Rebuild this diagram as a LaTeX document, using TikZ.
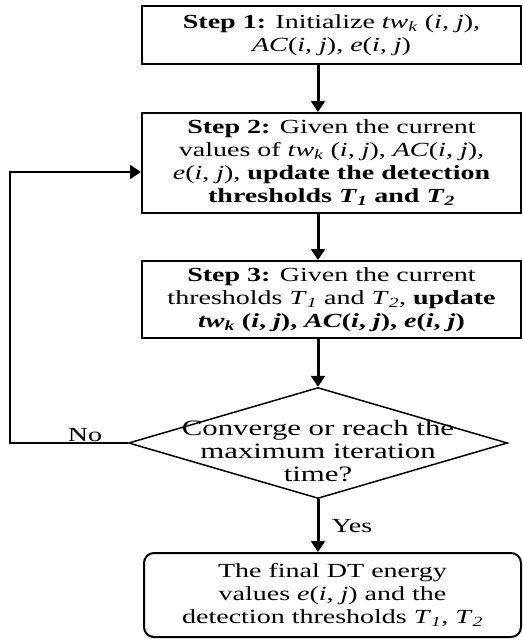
\documentclass[tikz,border=0pt]{standalone}
\usepackage{fontspec}
\setmainfont{Liberation Serif}[FakeStretch=1.4]
\usetikzlibrary{arrows.meta,shapes.geometric}
\newcommand{\pij}{(\textit{i}, \textit{j})}
\newcommand{\twk}{\textit{tw}\textsubscript{\textit{k}}}
\newcommand{\Tone}{\textit{T}\textsubscript{\textit{1}}}
\newcommand{\Ttwo}{\textit{T}\textsubscript{\textit{2}}}
\begin{document}
\begin{tikzpicture}[x=1pt,y=-1pt,
  every node/.style={font=\fontsize{20}{23}\selectfont},
  stepbox/.style={draw, line width=2pt, rectangle, minimum width=379pt, inner sep=0pt, align=center},
  endbox/.style={draw, line width=2pt, rectangle, rounded corners=10pt, minimum width=377pt, inner sep=0pt, align=center},
  decbox/.style={draw, line width=1.5pt, diamond, minimum width=379pt, minimum height=111pt, inner sep=0pt},
  flow/.style={line width=3pt, -{Triangle[length=11pt,width=14pt]}},
  loopline/.style={line width=2pt, -{Triangle[length=11pt,width=14pt]}},
  lbl/.style={inner sep=0pt}
]
\useasboundingbox (0,0) rectangle (522,642);
\node[stepbox, minimum height=58pt] (b1) at (331.5,35)
  {\textbf{Step 1:} Initialize \twk{} \pij,\\ \textit{AC}\pij, \textit{e}\pij};
\node[stepbox, minimum height=100pt] (b2) at (331.5,163)
  {\textbf{Step 2:} Given the current\\ values of \twk{} \pij, \textit{AC}\pij,\\ \textit{e}\pij, \textbf{update the detection}\\ \textbf{thresholds \Tone{} and \Ttwo}};
\node[stepbox, minimum height=77pt] (b3) at (331.5,299.5)
  {\textbf{Step 3:} Given the current\\ thresholds \Tone{} and \Ttwo, \textbf{update}\\ \textbf{\twk{} \pij, \textit{AC}\pij, \textit{e}\pij}};
\node[decbox] (d) at (318,443) {};
\node[lbl, align=center, font=\fontsize{22}{23}\selectfont] (dt) at (318,451) {Converge or reach the\\ maximum iteration\\ time?};
\node[endbox, minimum height=84pt] (b4) at (332.5,595)
  {The final DT energy\\ values \textit{e}\pij{} and the\\ detection thresholds \Tone, \Ttwo};
\coordinate (c1) at (9.5,172);
\draw[flow] (b1.south -| d.north) -- (b2.north -| d.north);
\draw[flow] (b2.south -| d.north) -- (b3.north -| d.north);
\draw[flow] (b3.south -| d.north) -- (d.north);
\draw[flow] (d.south) -- (b4.north -| d.south) node[lbl, pos=0.5, right=12pt] (yes) {Yes};
\draw[loopline] (d.west) -| (c1) -- (c1 -| b2.west);
\node[lbl] (no) at (85,435) {No};
\end{tikzpicture}
\end{document}
